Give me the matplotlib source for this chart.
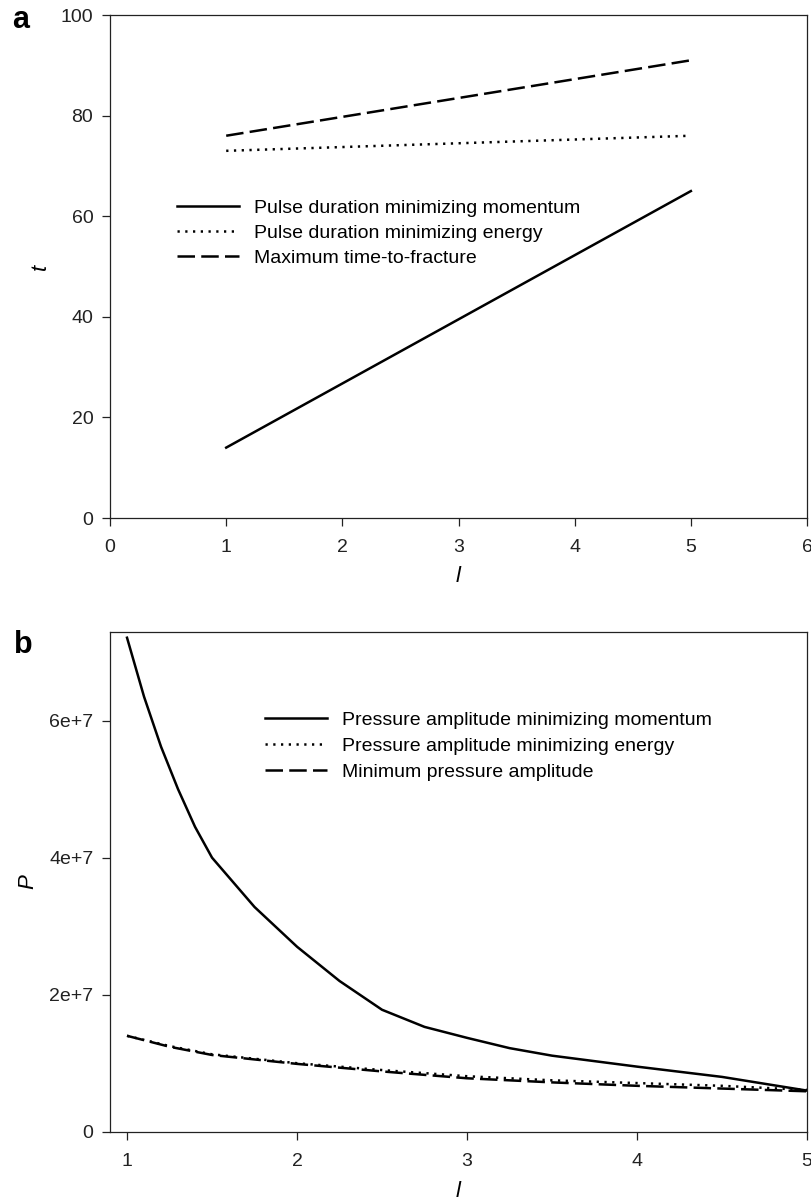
import matplotlib
matplotlib.use("Agg")
import matplotlib.pyplot as plt
from matplotlib.ticker import FixedLocator, FuncFormatter

plt.rcParams['font.family'] = ['Liberation Sans', 'DejaVu Sans']

# panel a: pulse durations against l
l_a = [1, 5]
t_momentum = [14, 65]
t_energy = [73, 76]
t_fracture = [76, 91]

# panel b: pressure amplitudes against l
l_b_mom = [1.0, 1.1, 1.2, 1.3, 1.4, 1.5, 1.75, 2.0, 2.25, 2.5, 2.75, 3.0,
           3.25, 3.5, 4.0, 4.5, 5.0]
p_momentum = [7.21e7, 6.35e7, 5.62e7, 5.0e7, 4.45e7, 4.0e7, 3.28e7, 2.7e7,
              2.2e7, 1.78e7, 1.53e7, 1.37e7, 1.22e7, 1.11e7, 0.95e7,
              0.80e7, 0.60e7]
l_b = [1.0, 1.25, 1.5, 2.0, 2.5, 3.0, 3.5, 4.0, 4.5, 5.0]
p_energy = [1.40e7, 1.25e7, 1.13e7, 1.00e7, 0.90e7, 0.81e7, 0.75e7, 0.71e7,
            0.67e7, 0.61e7]
p_minimum = [1.40e7, 1.24e7, 1.12e7, 0.99e7, 0.88e7, 0.78e7, 0.72e7, 0.67e7,
             0.63e7, 0.59e7]

labels_a = ['Pulse duration minimizing momentum',
            'Pulse duration minimizing energy',
            'Maximum time-to-fracture']
labels_b = ['Pressure amplitude minimizing momentum',
            'Pressure amplitude minimizing energy',
            'Minimum pressure amplitude']

LW = 1.8
DOT = (0.9, 2.2)
DASH = (7, 2.5)
TICK_FS = 14
LABEL_FS = 16

fig = plt.figure(figsize=(8.12, 12), dpi=100)
ax1 = fig.add_axes([0.1355, 0.5683, 0.8584, 0.4192])
ax2 = fig.add_axes([0.1355, 0.0569, 0.8584, 0.4168])


def style_axes(ax):
    for sp in ax.spines.values():
        sp.set_linewidth(0.9)
        sp.set_color('#222222')
    ax.tick_params(direction='out', length=6, width=0.9,
                   labelsize=TICK_FS, colors='#222222',
                   top=False, right=False)
    ax.tick_params(axis='x', pad=9)
    ax.tick_params(axis='y', pad=6)


# panel a
ax1.plot(l_a, t_momentum, color='black', lw=LW, label=labels_a[0])
ax1.plot(l_a, t_energy, color='black', lw=LW, dashes=DOT, label=labels_a[1])
ax1.plot(l_a, t_fracture, color='black', lw=LW, dashes=DASH, label=labels_a[2])
ax1.set_xlim(0, 6)
ax1.set_ylim(0, 100)
ax1.set_xticks(range(0, 7))
ax1.set_yticks(range(0, 101, 20))
style_axes(ax1)
ax1.set_xlabel('l', fontsize=LABEL_FS, fontstyle='italic')
ax1.set_ylabel('t', fontsize=LABEL_FS, fontstyle='italic')
ax1.xaxis.set_label_coords(0.5, -0.096)
ax1.yaxis.set_label_coords(-0.085, 0.5)
ax1.legend(loc='center left', bbox_to_anchor=(0.096, 0.567), frameon=False,
           fontsize=TICK_FS, borderpad=0, borderaxespad=0, handlelength=3.2,
           handletextpad=0.75, labelspacing=0.38)

# panel b
ax2.plot(l_b_mom, p_momentum, color='black', lw=LW, label=labels_b[0])
ax2.plot(l_b, p_energy, color='black', lw=LW, dashes=DOT, label=labels_b[1])
ax2.plot(l_b, p_minimum, color='black', lw=LW, dashes=DASH, label=labels_b[2])
ax2.set_xlim(0.9, 5)
ax2.set_ylim(0, 7.3e7)
ax2.xaxis.set_major_locator(FixedLocator([1, 2, 3, 4, 5]))
ax2.yaxis.set_major_locator(FixedLocator([0, 2e7, 4e7, 6e7]))
ax2.yaxis.set_major_formatter(
    FuncFormatter(lambda v, pos: '0' if v == 0 else '%de+7' % round(v / 1e7)))
style_axes(ax2)
ax2.set_xlabel('l', fontsize=LABEL_FS, fontstyle='italic')
ax2.set_ylabel('P', fontsize=LABEL_FS, fontstyle='italic')
ax2.xaxis.set_label_coords(0.5, -0.098)
ax2.yaxis.set_label_coords(-0.103, 0.5)
ax2.legend(loc='center left', bbox_to_anchor=(0.222, 0.771), frameon=False,
           fontsize=TICK_FS, borderpad=0, borderaxespad=0, handlelength=3.2,
           handletextpad=0.75, labelspacing=0.45)

fig.text(12 / 812, 1 - 28 / 1200, 'a', fontsize=22, fontweight='bold',
         va='baseline', ha='left')
fig.text(14 / 812, 1 - 653 / 1200, 'b', fontsize=22, fontweight='bold',
         va='baseline', ha='left')

fig.savefig('out.png', dpi=100)
